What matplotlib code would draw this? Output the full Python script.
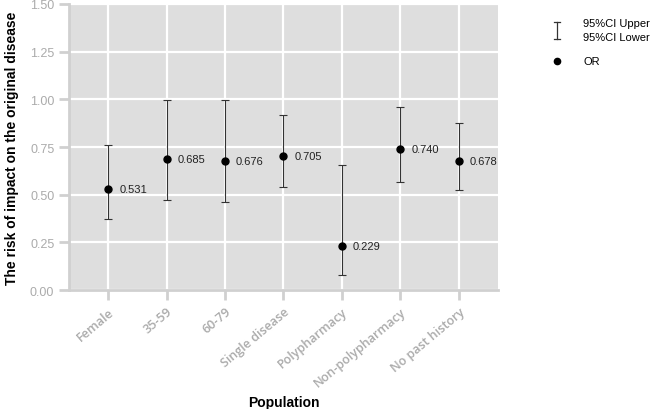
import matplotlib.pyplot as plt
from matplotlib.lines import Line2D

plt.rcParams['font.family'] = ['Liberation Sans', 'DejaVu Sans']

groups = ["Female", "35-59", "60-79", "Single disease", "Polypharmacy",
          "Non-polypharmacy", "No past history"]
or_vals = [0.531, 0.685, 0.676, 0.705, 0.229, 0.740, 0.678]
ci_lower = [0.372, 0.472, 0.461, 0.540, 0.079, 0.566, 0.524]
ci_upper = [0.760, 0.996, 0.996, 0.918, 0.655, 0.960, 0.876]

fig = plt.figure(figsize=(6.5, 4.1), dpi=100)
ax = fig.add_axes([0.106, 0.290, 0.660, 0.698])
ax.set_facecolor("#dedede")

x = list(range(len(groups)))
yerr = [[o - l for o, l in zip(or_vals, ci_lower)],
        [u - o for o, u in zip(or_vals, ci_upper)]]
ax.errorbar(x, or_vals, yerr=yerr, fmt="o", color="black", ecolor="#333333",
            elinewidth=0.8, capsize=3, capthick=0.8, markersize=5, zorder=3)
for xi, v in zip(x, or_vals):
    ax.annotate(f"{v:.3f}", (xi, v), xytext=(8, 0), textcoords="offset points",
                fontsize=8, va="center", ha="left", color="#222222")

ax.set_xlim(-0.67, 6.67)
ax.set_ylim(0, 1.5)
ax.set_yticks([0, 0.25, 0.5, 0.75, 1.0, 1.25, 1.5])
ax.set_yticklabels([f"{t:.2f}" for t in ax.get_yticks()])
ax.set_xticks(x)
ax.set_xticklabels(groups, rotation=40, ha="right", rotation_mode="anchor",
                   family="Open Sans", fontsize=8.2, fontweight="semibold")
ax.grid(True, color="white", linewidth=1.6)
ax.set_axisbelow(True)
for s in ["top", "right"]:
    ax.spines[s].set_visible(False)
for s in ["left", "bottom"]:
    ax.spines[s].set_color("#d0d0d0")
    ax.spines[s].set_linewidth(2)
ax.tick_params(axis="both", colors="#d0d0d0", width=2, length=7,
               labelcolor="#ababab", labelsize=9)

ax.set_xlabel("Population", fontsize=10, fontweight="bold", labelpad=4)
ax.set_ylabel("The risk of impact on the original disease", fontsize=10,
              fontweight="bold", labelpad=8)

# legend drawn outside the axes
fig.add_artist(Line2D([0.857, 0.857], [0.902, 0.944], color="#333333", lw=0.9))
fig.add_artist(Line2D([0.852, 0.862], [0.944, 0.944], color="#333333", lw=0.9))
fig.add_artist(Line2D([0.852, 0.862], [0.902, 0.902], color="#333333", lw=0.9))
fig.text(0.897, 0.941, "95%CI Upper", fontsize=8, va="center")
fig.text(0.897, 0.907, "95%CI Lower", fontsize=8, va="center")
fig.add_artist(Line2D([0.857], [0.849], marker="o", color="black", markersize=4.5))
fig.text(0.897, 0.849, "OR", fontsize=8, va="center")

fig.savefig("out.png", dpi=100)
